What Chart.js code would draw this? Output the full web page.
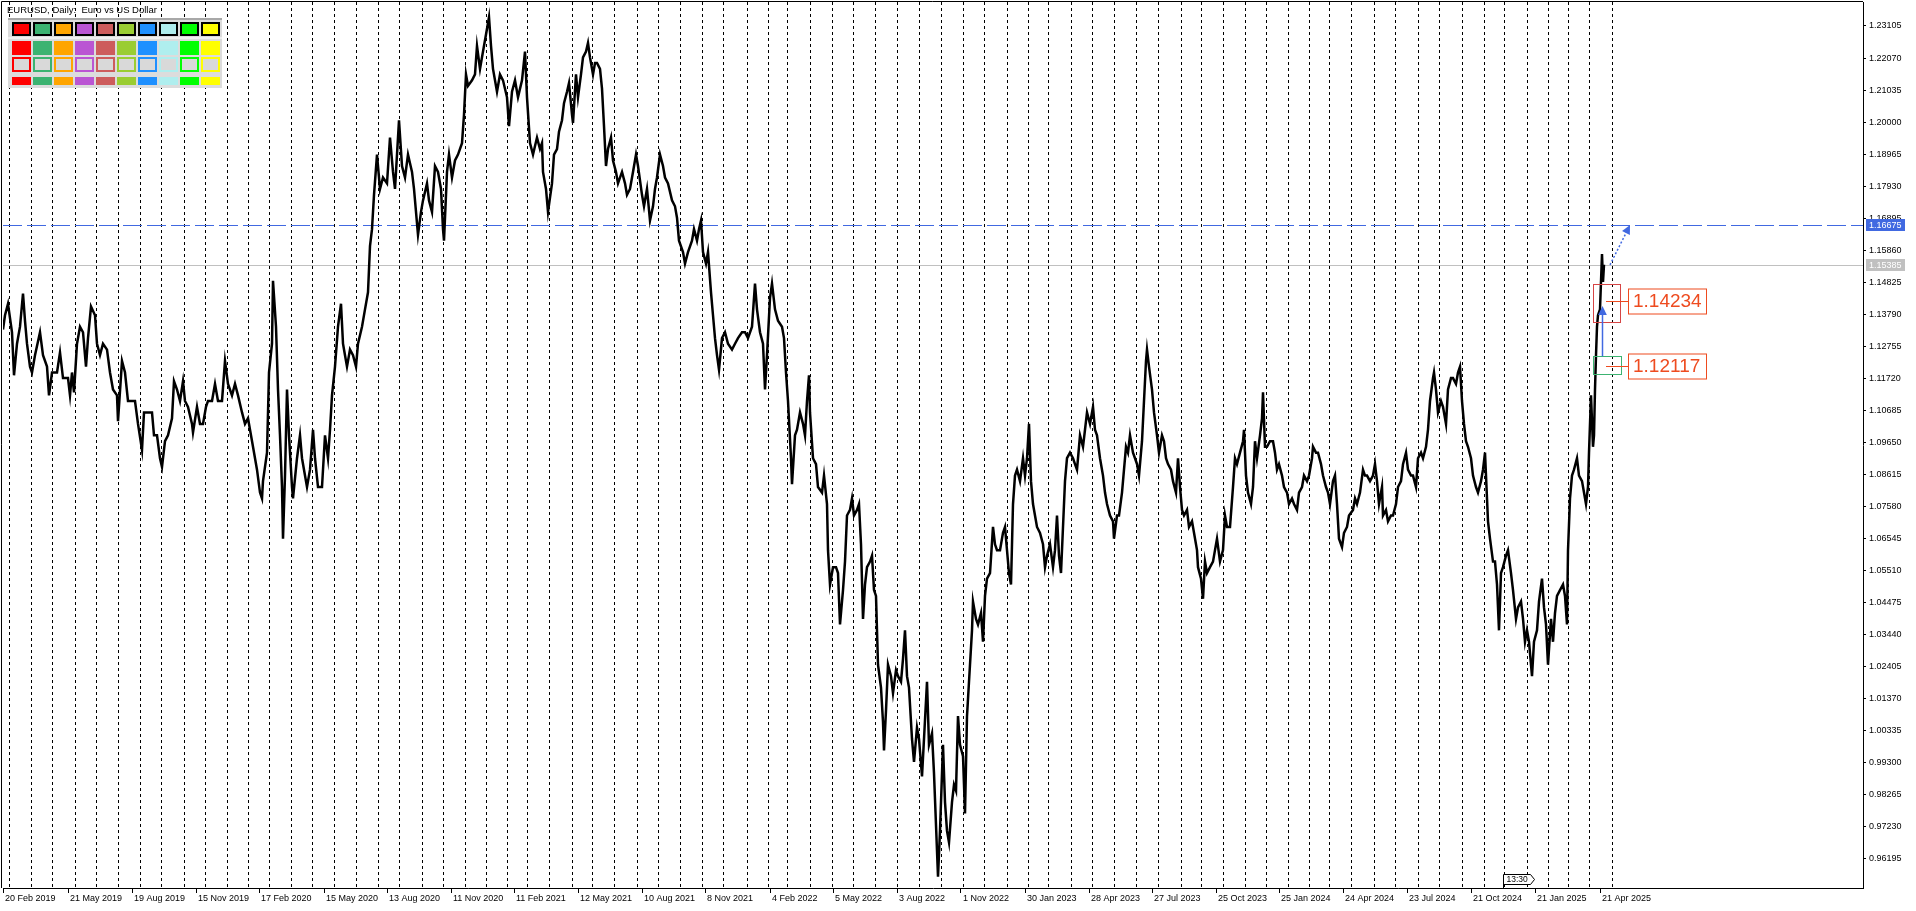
<!DOCTYPE html>
<html>
<head>
<meta charset="utf-8">
<title>EURUSD, Daily</title>
<script src="https://cdn.jsdelivr.net/npm/chart.js@4.4.1/dist/chart.umd.min.js"></script>
<style>
  html, body { margin: 0; padding: 0; background: #fff; overflow: hidden; }
  #wrap { width: 1916px; height: 911px; }
</style>
</head>
<body>
<div id="wrap"><canvas id="chart" width="1916" height="911"></canvas></div>
<script>
// bar number (1 bar = 1 trading day, 0 = 20 Feb 2019) and price
const bars = [
  0,2,5,9,11,14,17,20,22,24,
  27,29,32,37,40,44,46,49,54,57,
  60,65,67,69,71,74,77,80,83,85,
  88,92,94,97,100,104,107,110,114,115,
  119,122,125,129,132,135,139,141,145,149,
  151,154,157,159,162,165,169,171,174,177,
  180,182,185,189,190,194,197,200,203,205,
  209,212,215,219,222,225,229,232,235,239,
  242,245,250,254,257,259,260,264,266,269,
  270,273,275,277,279,280,282,284,286,289,
  290,294,297,299,302,304,307,310,312,315,
  319,322,325,327,329,332,335,338,340,342,
  344,347,350,353,355,359,362,365,367,369,
  371,374,377,380,384,387,390,392,394,396,
  399,402,405,409,411,414,415,418,420,424,
  426,429,432,435,438,440,441,444,446,449,
  452,455,459,461,463,465,469,472,474,477,
  480,483,486,488,490,494,497,500,504,506,
  509,512,515,519,522,524,527,530,534,537,
  539,540,543,545,549,551,554,556,559,561,
  564,566,569,570,573,575,578,580,583,585,
  587,590,592,594,597,599,601,603,605,608,
  610,613,615,619,622,624,627,630,633,635,
  639,641,644,647,650,652,654,657,660,662,
  665,669,672,674,676,680,682,685,689,691,
  694,696,698,700,703,705,708,710,712,714,
  716,719,722,725,729,732,735,739,742,745,
  749,752,754,757,760,762,764,767,769,772,
  775,779,781,783,785,788,789,792,794,797,
  800,802,804,806,
  807,810,813,815,819,821,824,825,827,830,
  833,835,837,840,842,844,847,849,851,854,
  856,858,860,862,864,867,869,871,873,875,
  878,880,881,883,885,888,890,893,895,898,
  900,902,904,906,909,911,914,916,919,921,
  924,926,929,931,933,935,937,940,942,944,
  946,949,951,953,955,957,960,962,964,966,
  969,970,973,975,978,980,982,984,987,990,
  992,994,997,1000,1002,1004,1006,1008,1010,1012,
  1014,1017,1020,1022,1024,1026,1028,1030,1032,1034,
  1037,1040,1042,1044,1047,1050,1052,1054,1056,1058,
  1060,1062,1064,1067,1070,1072,1074,
  1077,1080,1082,1084,1087,1090,1092,1094,1097,1100,
  1102,1104,1107,1110,1111,1114,1116,1119,1121,1123,
  1125,1127,1130,1132,1134,1136,1139,1141,1143,1144,
  1146,1149,1151,1154,1156,1159,1161,1163,1165,1168,
  1170,1173,1175,1177,1179,1181,1184,1186,1189,1191,
  1194,1195,1198,1200,1202,1204,1207,1210,1212,1214,
  1217,1220,1222,1224,1227,1230,1232,1234,1237,1240,
  1241,1243,1245,1248,1250,1252,1254,1257,1259,1260,
  1262,1264,1267,1270,1272,1274,1276,1279,1281,1284,
  1286,1289,1291,1294,1296,1299,1301,1304,1306,1309,
  1310,1313,1315,1318,1320,1323,1325,1327,1330,1332,
  1334,1336,1339,1341,1344,1346,
  1350,1352,1354,1357,1360,1362,1364,1367,1370,1372,
  1374,1376,1379,1380,1383,1385,1388,1390,1393,1395,
  1398,1400,1403,1405,1408,1410,1413,1415,1418,1420,
  1423,1425,1427,1430,1431,1433,1435,1438,1440,1443,
  1445,1448,1450,1453,1455,1457,1459,1461,1463,1465,
  1468,1470,1473,1475,1478,1480,1482,1484,1485,1487,
  1490,1492,1494,1496,1498,1500,1503,1505,1508,1510,
  1513,1515,1518,1520,1522,1524,1526,1529,1531,1534,
  1536,1539,1541,1543,1545,1548,1550,1552,1554,1557,
  1560,1562,1564,1565,1567,1569,1571,1574,1576,1579,
  1581,1583,1585,1586,1588,1590,1591,1592,1593,1594,
  1595,1597,1599,1600,1601,
];
const prices = [
  1.1330,1.1376,1.1413,1.1321,1.1182,1.1284,1.1339,1.1446,1.1358,1.1284,
  1.1210,1.1191,1.1247,1.1321,1.1247,1.1210,1.1117,1.1191,1.1191,1.1256,
  1.1173,1.1173,1.1117,1.1191,1.1127,1.1284,1.1339,1.1321,1.1210,1.1302,
  1.1404,1.1376,1.1284,1.1247,1.1284,1.1265,1.1191,1.1136,1.1117,1.1034,
  1.1228,1.1191,1.1099,1.1099,1.1099,1.1025,1.0941,1.1062,1.1062,1.1062,
  1.0988,1.0988,1.0914,1.0886,1.0969,1.0988,1.1043,1.1163,1.1136,1.1099,
  1.1163,1.1099,1.1080,1.1025,1.0997,1.1080,1.1025,1.1025,1.1080,1.1099,
  1.1099,1.1154,1.1099,1.1099,1.1228,1.1154,1.1117,1.1154,1.1117,1.1062,
  1.1025,1.1043,1.0951,1.0877,1.0803,1.0784,1.0840,1.0932,1.1191,1.1284,
  1.1487,1.1339,1.1136,1.0988,1.0821,1.0654,1.0858,1.1136,1.0988,1.0821,
  1.0784,1.0914,1.0988,1.0914,1.0858,1.0821,1.0877,1.1006,1.0914,1.0821,
  1.0821,1.0988,1.0914,1.1006,1.1117,1.1210,1.1339,1.1413,1.1284,1.1247,
  1.1210,1.1265,1.1247,1.1210,1.1284,1.1339,1.1395,1.1450,1.1599,1.1654,
  1.1765,1.1895,1.1784,1.1821,1.1802,1.1950,1.1839,1.1784,1.1895,1.2006,
  1.1858,1.1821,1.1895,1.1839,1.1784,1.1673,1.1636,1.1710,1.1747,1.1802,
  1.1747,1.1710,1.1858,1.1839,1.1784,1.1654,1.1617,1.1839,1.1895,1.1821,
  1.1876,1.1895,1.1932,1.2024,1.2154,1.2117,1.2135,1.2154,1.2246,1.2172,
  1.2228,1.2283,1.2339,1.2246,1.2172,1.2098,1.2154,1.2135,1.2080,1.1987,
  1.2098,1.2135,1.2080,1.2135,1.2228,1.2080,1.1932,1.1895,1.1950,1.1913,
  1.1932,1.1839,1.1784,1.1710,1.1802,1.1895,1.1913,1.1969,1.2006,1.2061,
  1.2098,1.2126,1.2024,1.1997,1.2154,1.2080,1.2154,1.2209,1.2228,1.2256,
  1.2209,1.2154,1.2191,1.2191,1.2172,1.2108,1.1987,1.1858,1.1913,1.1950,
  1.1876,1.1839,1.1802,1.1839,1.1802,1.1765,1.1784,1.1839,1.1895,1.1858,
  1.1765,1.1728,1.1784,1.1682,1.1728,1.1784,1.1821,1.1895,1.1858,1.1821,
  1.1802,1.1747,1.1728,1.1691,1.1617,1.1580,1.1543,1.1580,1.1617,1.1654,
  1.1617,1.1654,1.1682,1.1580,1.1543,1.1580,1.1450,1.1376,1.1302,1.1247,
  1.1200,1.1302,1.1321,1.1284,1.1265,1.1284,1.1302,1.1321,1.1321,1.1302,
  1.1339,1.1478,1.1395,1.1321,1.1284,1.1136,1.1247,1.1432,1.1478,1.1395,
  1.1358,1.1339,1.1302,1.1191,1.1099,1.0914,1.0830,1.0988,1.1006,1.1062,
  1.1025,1.0988,1.1099,1.1182,
  1.1062,1.0914,1.0895,1.0821,1.0803,1.0858,1.0766,1.0617,1.0506,1.0562,
  1.0562,1.0543,1.0377,1.0488,1.0580,1.0729,1.0747,1.0784,1.0729,1.0747,
  1.0766,1.0636,1.0395,1.0506,1.0562,1.0580,1.0599,1.0488,1.0469,1.0247,
  1.0173,1.0062,0.9970,1.0099,1.0247,1.0210,1.0155,1.0229,1.0210,1.0192,
  1.0266,1.0358,1.0210,1.0173,1.0007,0.9933,1.0044,1.0007,0.9886,1.0007,
  1.0192,0.9988,1.0025,0.9896,0.9729,0.9562,0.9710,0.9988,0.9803,0.9710,
  0.9673,0.9803,0.9859,0.9840,1.0081,0.9988,0.9951,0.9766,1.0081,1.0192,
  1.0358,1.0451,1.0395,1.0377,1.0414,1.0321,1.0469,1.0525,1.0543,1.0692,
  1.0636,1.0617,1.0617,1.0673,1.0692,1.0617,1.0543,1.0506,1.0766,1.0858,
  1.0877,1.0840,1.0914,1.0858,1.0914,1.1025,1.0840,1.0766,1.0729,1.0692,
  1.0673,1.0636,1.0562,1.0599,1.0636,1.0562,1.0617,1.0729,1.0599,1.0543,
  1.0692,1.0840,1.0914,1.0932,1.0914,1.0895,1.0877,
  1.0988,1.0951,1.1006,1.1062,1.1025,1.1080,1.1006,1.0988,1.0914,1.0858,
  1.0803,1.0766,1.0729,1.0710,1.0654,1.0729,1.0729,1.0803,1.0877,1.0951,
  1.0932,1.0988,1.0932,1.0914,1.0895,1.0858,1.0969,1.1099,1.1228,1.1265,
  1.1210,1.1136,1.1062,1.0988,1.0932,1.0988,1.0969,1.0914,1.0895,1.0877,
  1.0840,1.0803,1.0914,1.0821,1.0747,1.0729,1.0747,1.0692,1.0710,1.0673,
  1.0617,1.0562,1.0525,1.0460,1.0580,1.0543,1.0562,1.0580,1.0617,1.0654,
  1.0580,1.0617,1.0729,1.0692,1.0692,1.0821,1.0914,1.0895,1.0932,1.0969,
  1.1006,1.0858,1.0803,1.0766,1.0821,1.0969,1.0914,1.0988,1.1043,1.1127,
  1.0951,1.0951,1.0969,1.0969,1.0932,1.0877,1.0895,1.0858,1.0821,1.0803,
  1.0766,1.0784,1.0766,1.0747,1.0803,1.0821,1.0858,1.0840,1.0858,1.0914,
  1.0951,1.0932,1.0932,1.0895,1.0858,1.0821,1.0803,1.0766,1.0840,1.0858,
  1.0766,1.0654,1.0627,1.0673,1.0692,1.0729,
  1.0747,1.0784,1.0766,1.0803,1.0877,1.0858,1.0858,1.0840,1.0858,1.0895,
  1.0840,1.0766,1.0821,1.0729,1.0747,1.0710,1.0729,1.0729,1.0766,1.0821,
  1.0840,1.0895,1.0932,1.0877,1.0858,1.0858,1.0821,1.0914,1.0932,1.0914,
  1.0951,1.1006,1.1099,1.1173,1.1191,1.1136,1.1062,1.1099,1.1080,1.1025,
  1.1136,1.1173,1.1173,1.1154,1.1191,1.1210,1.1099,1.1025,1.0969,1.0951,
  1.0914,1.0858,1.0821,1.0803,1.0840,1.0877,1.0932,1.0784,1.0710,1.0654,
  1.0580,1.0580,1.0506,1.0358,1.0543,1.0562,1.0599,1.0617,1.0543,1.0488,
  1.0395,1.0432,1.0451,1.0395,1.0321,1.0358,1.0321,1.0210,1.0321,1.0358,
  1.0451,1.0525,1.0432,1.0377,1.0247,1.0395,1.0321,1.0414,1.0469,1.0488,
  1.0506,1.0469,1.0377,1.0617,1.0784,1.0858,1.0877,1.0914,1.0858,1.0840,
  1.0803,1.0766,1.0821,1.0932,1.1117,1.0951,1.0988,1.1136,1.1247,1.1339,
  1.1376,1.1395,1.1574,1.1484,1.1539,
];

// time axis: first bar of each month (dotted grid) and the date labels
const monthLines = [
  6, 28, 49, 72, 93, 115, 137, 158, 181, 202, 224, 245, 266,
  288, 309, 331, 353, 375, 396, 419, 440, 462, 484, 504, 524,
  546, 569, 589, 611, 634, 655, 677, 699, 720, 744, 765, 784, 807,
  829, 850, 872, 894, 916, 938, 960, 981, 1004, 1025, 1045, 1068,
  1089, 1111, 1133, 1155, 1178, 1198, 1220, 1242, 1263, 1285, 1306, 1326, 1348,
  1371, 1392, 1415, 1436, 1459, 1481, 1501, 1524, 1545, 1565, 1586, 1609,
];
const labelBars = [0, 65, 129, 193, 256, 321, 384, 448, 511, 575, 639, 702, 767,
  830, 894, 958, 1022, 1086, 1149, 1213, 1276, 1340, 1404, 1468, 1532, 1597];
const dateLabels = ['20 Feb 2019', '21 May 2019', '19 Aug 2019', '15 Nov 2019', '17 Feb 2020',
  '15 May 2020', '13 Aug 2020', '11 Nov 2020', '11 Feb 2021', '12 May 2021', '10 Aug 2021',
  '8 Nov 2021', '4 Feb 2022', '5 May 2022', '3 Aug 2022', '1 Nov 2022', '30 Jan 2023',
  '28 Apr 2023', '27 Jul 2023', '25 Oct 2023', '25 Jan 2024', '24 Apr 2024', '23 Jul 2024',
  '21 Oct 2024', '21 Jan 2025', '21 Apr 2025'];

// price axis
const priceTicks = [1.23105, 1.22070, 1.21035, 1.20000, 1.18965, 1.17930, 1.16895, 1.15860,
  1.14825, 1.13790, 1.12755, 1.11720, 1.10685, 1.09650, 1.08615, 1.07580, 1.06545, 1.05510,
  1.04475, 1.03440, 1.02405, 1.01370, 1.00335, 0.99300, 0.98265, 0.97230, 0.96195];
const priceMin = 0.95255;
const priceMax = 1.23880;
const barMax = 1860;

// levels drawn on the chart
const targetLevel = 1.16675;
const bidPrice = 1.15385;
const upperLevel = 1.14234;
const lowerLevel = 1.12117;
const upperZone = [1.14760, 1.13532];
const lowerZone = [1.12434, 1.11852];
const zoneBars = [1590, 1617];
const arrowBar = 1599;
const arrowTip = 1.14059;
const timerBar = 1500;

const paletteColors = ['#ff0000', '#3cb371', '#ffa500', '#ba55d3', '#cd5c5c',
  '#9acd32', '#1e90ff', '#afeeee', '#00ff00', '#ffff00'];

const FONT = 'Liberation Sans, Arial, sans-serif';
const axisFont = { family: FONT, size: 9 };
const BLUE = '#4169e1';
const LABEL_RED = '#ee4b1f';

function arrowHead(ctx, x0, y0, x1, y1, size) {
  const a = Math.atan2(y1 - y0, x1 - x0);
  ctx.beginPath();
  ctx.moveTo(x1, y1);
  ctx.lineTo(x1 - size * Math.cos(a - 0.45), y1 - size * Math.sin(a - 0.45));
  ctx.lineTo(x1 - size * Math.cos(a + 0.45), y1 - size * Math.sin(a + 0.45));
  ctx.closePath();
  ctx.fill();
}

function levelLabel(ctx, x, y, xFrom, yLevel, text) {
  ctx.strokeStyle = LABEL_RED;
  ctx.lineWidth = 1;
  ctx.beginPath();
  ctx.moveTo(xFrom, yLevel);
  ctx.lineTo(x, yLevel);
  ctx.stroke();
  ctx.fillStyle = '#fff';
  ctx.fillRect(x, y - 12.5, 78, 25);
  ctx.strokeRect(x + 0.5, y - 12, 78, 25);
  ctx.fillStyle = LABEL_RED;
  ctx.font = '19px ' + FONT;
  ctx.textAlign = 'left';
  ctx.textBaseline = 'middle';
  ctx.fillText(text, x + 5, y + 1);
}

const overlay = {
  id: 'overlay',
  beforeDatasetsDraw(chart) {
    const { ctx, chartArea: a, scales: { y } } = chart;
    ctx.save();
    ctx.lineWidth = 1;
    const yb = Math.round(y.getPixelForValue(bidPrice)) + 0.5;
    ctx.strokeStyle = '#c0c0c0';
    ctx.beginPath();
    ctx.moveTo(a.left, yb);
    ctx.lineTo(a.right, yb);
    ctx.stroke();
    const yt = Math.round(y.getPixelForValue(targetLevel)) + 0.5;
    ctx.strokeStyle = BLUE;
    ctx.setLineDash([19, 5]);
    ctx.beginPath();
    ctx.moveTo(a.left, yt);
    ctx.lineTo(a.right, yt);
    ctx.stroke();
    ctx.restore();
  },
  afterDatasetsDraw(chart) {
    const { ctx, scales: { x, y } } = chart;
    const px = (b) => x.getPixelForValue(b);
    const py = (v) => y.getPixelForValue(v);
    ctx.save();
    // zones
    ctx.lineWidth = 1;
    ctx.strokeStyle = '#d64545';
    ctx.strokeRect(Math.round(px(zoneBars[0])) + 0.5, Math.round(py(upperZone[0])) + 0.5,
      Math.round(px(zoneBars[1]) - px(zoneBars[0])), Math.round(py(upperZone[1]) - py(upperZone[0])));
    ctx.strokeStyle = '#3cb371';
    ctx.strokeRect(Math.round(px(zoneBars[0])) + 0.5, Math.round(py(lowerZone[0])) + 0.5,
      Math.round(px(zoneBars[1] + 1) - px(zoneBars[0])), Math.round(py(lowerZone[1]) - py(lowerZone[0])));
    // level labels
    const xl = Math.round(px(zoneBars[1] + 8));
    const xf = Math.round(px(arrowBar + 4));
    levelLabel(ctx, xl, Math.round(py(upperLevel)), xf, Math.round(py(upperLevel)) + 0.5, upperLevel.toFixed(5));
    levelLabel(ctx, xl, Math.round(py(lowerLevel)), xf, Math.round(py(lowerLevel)) + 0.5, lowerLevel.toFixed(5));
    // solid blue arrow
    const ax = Math.round(px(arrowBar)) + 0.5;
    ctx.strokeStyle = BLUE;
    ctx.fillStyle = BLUE;
    ctx.lineWidth = 1.5;
    ctx.beginPath();
    ctx.moveTo(ax, py(lowerZone[0]));
    ctx.lineTo(ax, py(arrowTip) + 6);
    ctx.stroke();
    arrowHead(ctx, ax, py(lowerZone[0]), ax, py(arrowTip), 10);
    // dotted blue arrow to the target
    const x0 = px(arrowBar + 8), y0 = py(bidPrice);
    const x1 = px(arrowBar + 28), y1 = py(targetLevel);
    ctx.setLineDash([2, 2]);
    ctx.beginPath();
    ctx.moveTo(x0, y0);
    ctx.lineTo(x1 - 3, y1 + 6);
    ctx.stroke();
    ctx.setLineDash([]);
    arrowHead(ctx, x0, y0, x1, y1, 10);
    ctx.restore();
  },
  afterDraw(chart) {
    const { ctx, chartArea: a, scales: { x, y } } = chart;
    ctx.save();
    // frame
    ctx.strokeStyle = '#000';
    ctx.lineWidth = 1;
    ctx.beginPath();
    ctx.moveTo(1.5, a.bottom);
    ctx.lineTo(1.5, 1.5);
    ctx.lineTo(a.right, 1.5);
    ctx.stroke();
    // price boxes on the axis
    ctx.font = '9px ' + FONT;
    ctx.textBaseline = 'middle';
    ctx.textAlign = 'left';
    [[targetLevel, BLUE], [bidPrice, '#c0c0c0']].forEach(([v, c]) => {
      const yy = Math.round(y.getPixelForValue(v));
      ctx.fillStyle = c;
      ctx.fillRect(a.right + 3, yy - 6, 39, 12);
      ctx.fillStyle = '#fff';
      ctx.fillText(v.toFixed(5), a.right + 6, yy + 0.5);
    });
    // title
    ctx.fillStyle = '#000';
    ctx.font = '9.5px ' + FONT;
    ctx.textBaseline = 'alphabetic';
    ctx.fillText('EURUSD, Daily:  Euro vs US Dollar', 7, 12.5);
    // colour palette panel
    ctx.fillStyle = '#dcdcdc';
    ctx.fillRect(8, 18, 214, 70);
    ctx.fillStyle = '#a8a8a8';
    ctx.fillRect(8, 18, 214, 2);
    ctx.fillStyle = '#f0f0f0';
    ctx.fillRect(8, 37, 214, 2);
    paletteColors.forEach((c, i) => {
      const bx = 12 + 21 * i;
      ctx.fillStyle = '#000';
      ctx.fillRect(bx, 22, 19, 14);
      ctx.fillStyle = c;
      ctx.fillRect(bx + 2, 24, 15, 10);
      ctx.fillRect(bx, 41, 19, 14);
      ctx.fillRect(bx, 57, 19, 15);
      ctx.fillStyle = '#d9d9d9';
      ctx.fillRect(bx + 2, 59, 15, 11);
      ctx.fillStyle = c;
      ctx.fillRect(bx, 77, 19, 8);
    });
    // timer marker
    const tx = Math.round(x.getPixelForValue(timerBar)) + 0.5;
    ctx.beginPath();
    ctx.moveTo(tx, a.bottom);
    ctx.lineTo(tx, 874.5);
    ctx.lineTo(tx + 27, 874.5);
    ctx.lineTo(tx + 31, 879.5);
    ctx.lineTo(tx + 27, 884.5);
    ctx.lineTo(tx, 884.5);
    ctx.fillStyle = '#fff';
    ctx.fill();
    ctx.stroke();
    ctx.fillStyle = '#000';
    ctx.font = '8.5px ' + FONT;
    ctx.textBaseline = 'middle';
    ctx.fillText('13:30', tx + 3, 880);
    ctx.restore();
  },
};

// axes keep a fixed size and ask for no extra room round the plot
const fixSize = (w, h) => (s) => {
  if (w !== null) s.width = w;
  if (h !== null) s.height = h;
  s.paddingTop = 0;
  s.paddingBottom = 0;
  s.paddingLeft = 0;
  s.paddingRight = 0;
};

new Chart(document.getElementById('chart'), {
  type: 'line',
  data: {
    datasets: [{
      data: bars.map((b, i) => ({ x: b, y: prices[i] })),
      borderColor: '#000',
      borderWidth: 2.5,
      pointRadius: 0,
      tension: 0,
      xAxisID: 'x',
      yAxisID: 'y',
    }],
  },
  options: {
    responsive: false,
    animation: false,
    events: [],
    parsing: false,
    layout: { padding: { left: 3, top: 2, right: 0, bottom: 0 } },
    plugins: { legend: { display: false }, tooltip: { enabled: false } },
    scales: {
      x: {
        type: 'linear', position: 'bottom', min: 0, max: barMax, weight: 1,
        afterBuildTicks: (s) => { s.ticks = labelBars.map((v) => ({ value: v })); },
        afterFit: fixSize(null, 23),
        grid: { drawOnChartArea: false, color: '#000', tickLength: 5 },
        border: { color: '#000' },
        ticks: {
          autoSkip: false, maxRotation: 0, minRotation: 0, align: 'start', padding: 0,
          labelOffset: 2, color: '#000', font: axisFont,
          callback: (v, i) => dateLabels[i],
        },
      },
      xg: {
        type: 'linear', position: 'bottom', min: 0, max: barMax, weight: 2,
        afterBuildTicks: (s) => { s.ticks = monthLines.map((v) => ({ value: v })); },
        afterFit: fixSize(null, 0),
        ticks: { display: false },
        grid: { drawOnChartArea: true, drawTicks: false, color: '#000', lineWidth: 1 },
        border: { display: false, dash: [3, 3] },
      },
      y: {
        type: 'linear', position: 'right', min: priceMin, max: priceMax,
        afterBuildTicks: (s) => { s.ticks = priceTicks.map((v) => ({ value: v })); },
        afterFit: fixSize(53, null),
        grid: { drawOnChartArea: false, color: '#000', tickLength: 3 },
        border: { color: '#000' },
        ticks: { autoSkip: false, padding: 3, color: '#000', font: axisFont, callback: (v) => v.toFixed(5) },
      },
    },
  },
  plugins: [overlay],
});
</script>
</body>
</html>
